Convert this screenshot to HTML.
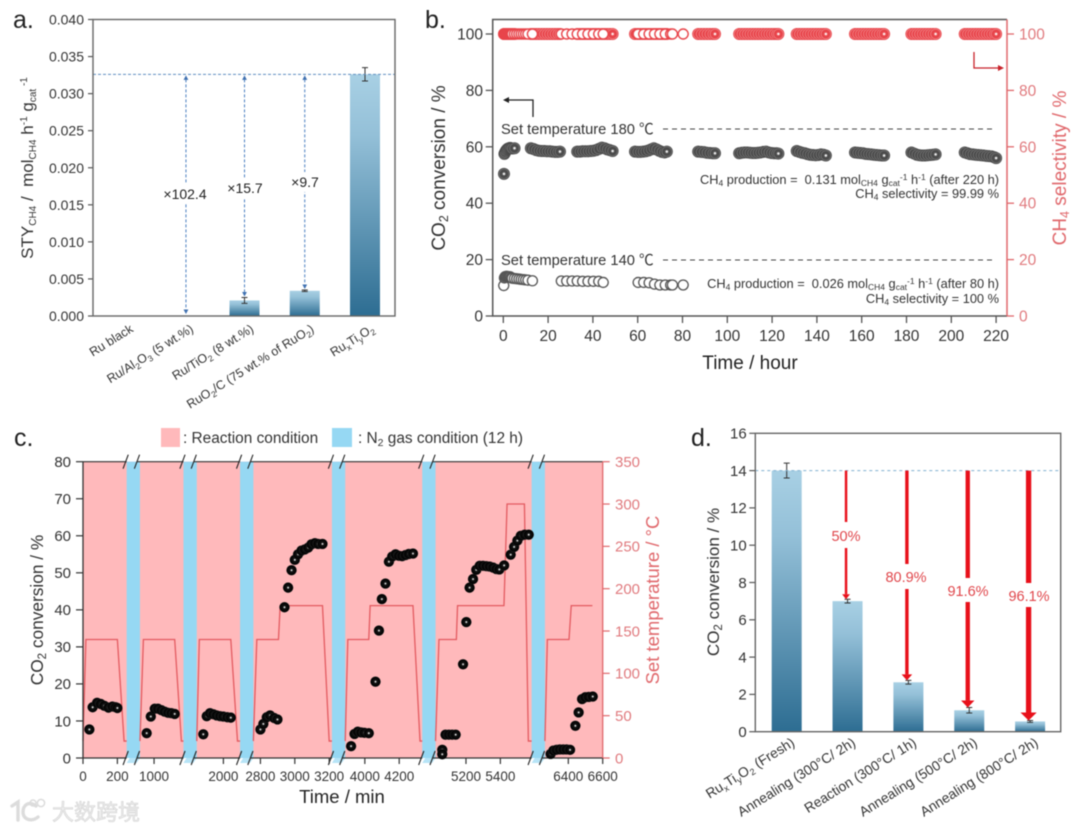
<!DOCTYPE html>
<html>
<head>
<meta charset="utf-8">
<title>Catalyst performance figure</title>
<style>
html,body{margin:0;padding:0;background:#fff;width:1080px;height:831px;overflow:hidden}
svg{display:block;filter:blur(0.5px)}
text{font-family:"Liberation Sans","Noto Sans CJK SC",sans-serif}
</style>
</head>
<body>
<svg id="fig" xmlns="http://www.w3.org/2000/svg" width="1080" height="831" viewBox="0 0 1080 831">
<defs>
<linearGradient id="barGrad" x1="0" y1="0" x2="0" y2="1"><stop offset="0" stop-color="#a8d0e4"/><stop offset="0.25" stop-color="#94c0d8"/><stop offset="1" stop-color="#2d6d92"/></linearGradient>
<radialGradient id="ballBlack" cx="0.5" cy="0.5" r="0.55"><stop offset="0" stop-color="#ffffff"/><stop offset="0.09" stop-color="#dddddd"/><stop offset="0.24" stop-color="#141414"/><stop offset="0.8" stop-color="#000000"/><stop offset="1" stop-color="#666666"/></radialGradient>
<radialGradient id="ballGrey" cx="0.5" cy="0.5" r="0.55"><stop offset="0" stop-color="#ffffff"/><stop offset="0.12" stop-color="#e8e8e8"/><stop offset="0.28" stop-color="#4c4c4c"/><stop offset="0.66" stop-color="#4c4c4c"/><stop offset="0.73" stop-color="#8a8a8a"/><stop offset="0.8" stop-color="#4a4a4a"/><stop offset="1" stop-color="#484848"/></radialGradient>
<radialGradient id="ballRed" cx="0.5" cy="0.5" r="0.55"><stop offset="0" stop-color="#ffffff"/><stop offset="0.12" stop-color="#ffe6e6"/><stop offset="0.28" stop-color="#e8454b"/><stop offset="0.66" stop-color="#e8454b"/><stop offset="0.73" stop-color="#f6a5a8"/><stop offset="0.8" stop-color="#e8454b"/><stop offset="1" stop-color="#e8454b"/></radialGradient>
</defs>

<!-- PANEL A -->
<g>
<text x="13" y="28" font-size="25" fill="#222">a.</text>
<g id="aMarks"></g>
<rect x="93" y="19.5" width="302" height="296.5" fill="none" stroke="#666" stroke-width="1.4"/>
<g>
<rect x="162" y="184" width="46" height="20" fill="#fff"/>
<text x="185" y="199" font-size="14" fill="#222" text-anchor="middle">×102.4</text>
<rect x="226" y="178" width="38" height="20" fill="#fff"/>
<text x="245" y="193" font-size="14" fill="#222" text-anchor="middle">×15.7</text>
<rect x="290" y="172" width="30" height="20" fill="#fff"/>
<text x="305" y="187" font-size="14" fill="#222" text-anchor="middle">×9.7</text>
</g>
<text transform="translate(33,168) rotate(-90)" text-anchor="middle" font-size="17" fill="#333">STY<tspan font-size="10" dy="3">CH4</tspan><tspan dy="-3">&#160;/&#160; mol</tspan><tspan font-size="10" dy="3">CH4</tspan><tspan dy="-3"> h</tspan><tspan font-size="10" dy="-6">-1</tspan><tspan dy="6"> g</tspan><tspan font-size="10" dy="3">cat</tspan><tspan font-size="10" dy="-9">&#160;-1</tspan></text>
</g>

<!-- PANEL B -->
<g>
<text x="425" y="28" font-size="25" fill="#222">b.</text>
<g id="bMarks"></g>
<path d="M1007 19.5H492.7V316H1007" fill="none" stroke="#555" stroke-width="1.5"/>
<line x1="1007" y1="19.5" x2="1007" y2="316" stroke="#e0686c" stroke-width="1.5"/>
<text transform="translate(445,168) rotate(-90)" text-anchor="middle" font-size="19" fill="#333">CO<tspan font-size="12.5" dy="3">2</tspan><tspan dy="-3"> conversion / %</tspan></text>
<text transform="translate(1066,168) rotate(-90)" text-anchor="middle" font-size="19" fill="#e0686c">CH<tspan font-size="12.5" dy="3">4</tspan><tspan dy="-3"> selectivity / %</tspan></text>
<text x="750" y="369" text-anchor="middle" font-size="19" fill="#222">Time / hour</text>
<text x="501" y="134" font-size="14.7" fill="#333">Set temperature 180 ℃</text>
<line x1="663" y1="129" x2="992" y2="129" stroke="#444" stroke-width="1.1" stroke-dasharray="5 4"/>
<text x="501" y="265" font-size="14.7" fill="#333">Set temperature 140 ℃</text>
<line x1="663" y1="260" x2="992" y2="260" stroke="#444" stroke-width="1.1" stroke-dasharray="5 4"/>
<path d="M533 117V100H507" fill="none" stroke="#222" stroke-width="1.3"/>
<path d="M503 100l6 -3v6z" fill="#222"/>
<path d="M974 52V68H1000" fill="none" stroke="#c8222a" stroke-width="1.3"/>
<path d="M1004 68l-6 -3v6z" fill="#c8222a"/>
<text x="999" y="184" text-anchor="end" font-size="12.8" fill="#333">CH<tspan font-size="8.5" dy="2">4</tspan><tspan dy="-2"> production =&#160; 0.131 mol</tspan><tspan font-size="8.5" dy="2">CH4</tspan><tspan dy="-2"> g</tspan><tspan font-size="8.5" dy="2">cat</tspan><tspan font-size="8.5" dy="-6">-1</tspan><tspan dy="4"> h</tspan><tspan font-size="8.5" dy="-4">-1</tspan><tspan dy="4"> (after 220 h)</tspan></text>
<text x="999" y="198" text-anchor="end" font-size="12.8" fill="#333">CH<tspan font-size="8.5" dy="2">4</tspan><tspan dy="-2"> selectivity = 99.99 %</tspan></text>
<text x="999" y="288" text-anchor="end" font-size="12.8" fill="#333">CH<tspan font-size="8.5" dy="2">4</tspan><tspan dy="-2"> production =&#160; 0.026 mol</tspan><tspan font-size="8.5" dy="2">CH4</tspan><tspan dy="-2"> g</tspan><tspan font-size="8.5" dy="2">cat</tspan><tspan font-size="8.5" dy="-6">-1</tspan><tspan dy="4"> h</tspan><tspan font-size="8.5" dy="-4">-1</tspan><tspan dy="4"> (after 80 h)</tspan></text>
<text x="999" y="303" text-anchor="end" font-size="12.8" fill="#333">CH<tspan font-size="8.5" dy="2">4</tspan><tspan dy="-2"> selectivity = 100 %</tspan></text>
</g>

<!-- PANEL C -->
<g>
<text x="14" y="446" font-size="25" fill="#222">c.</text>
<g>
<rect x="161" y="428" width="19" height="19" fill="#ffb9bb"/>
<text x="183" y="443" font-size="15.4" fill="#333">: Reaction condition</text>
<rect x="332" y="428" width="20" height="19" fill="#96d8f3"/>
<text x="358" y="443" font-size="15.4" fill="#333">: N<tspan font-size="10.5" dy="3">2</tspan><tspan dy="-3"> gas condition (12 h)</tspan></text>
</g>
<g id="cMarks"></g>
<text transform="translate(43,610) rotate(-90)" text-anchor="middle" font-size="17.3" fill="#333">CO<tspan font-size="11.5" dy="3">2</tspan><tspan dy="-3"> conversion / %</tspan></text>
<text transform="translate(659,600) rotate(-90)" text-anchor="middle" font-size="18.5" fill="#e0686c">Set temperature / °C</text>
<text x="342" y="803" text-anchor="middle" font-size="18.5" fill="#222">Time / min</text>
</g>

<!-- PANEL D -->
<g>
<text x="691" y="446" font-size="25" fill="#222">d.</text>
<g id="dMarks"></g>
<rect x="755.3" y="433.3" width="305.4" height="298.4" fill="none" stroke="#666" stroke-width="1.4"/>
<g>
<rect x="828" y="522" width="36" height="26" fill="#fff"/>
<text x="846" y="541" font-size="14.5" fill="#e0474c" text-anchor="middle">50%</text>
<rect x="884" y="564" width="48" height="25" fill="#fff"/>
<text x="906" y="582" font-size="14.5" fill="#e0474c" text-anchor="middle">80.9%</text>
<rect x="945" y="578" width="48" height="24" fill="#fff"/>
<text x="968" y="596" font-size="14.5" fill="#e0474c" text-anchor="middle">91.6%</text>
<rect x="1006" y="583" width="48" height="24" fill="#fff"/>
<text x="1029" y="601" font-size="14.5" fill="#e0474c" text-anchor="middle">96.1%</text>
</g>
<text transform="translate(719,582) rotate(-90)" text-anchor="middle" font-size="17" fill="#333">CO<tspan font-size="11.5" dy="3">2</tspan><tspan dy="-3"> conversion / %</tspan></text>
</g>

<!-- WATERMARK -->
<g>
<path d="M12 806L18 802V820M36 806C28 800 23 806 23 812C23 820 32 822 38 817" fill="none" stroke="#dcdcdc" stroke-width="3.4" stroke-linecap="round"/>
<circle cx="33" cy="803" r="3" fill="none" stroke="#dcdcdc" stroke-width="1.5"/>
<circle cx="41" cy="803" r="3.6" fill="none" stroke="#dcdcdc" stroke-width="1.5"/>
<text x="52" y="820" font-size="22" fill="#ececec" stroke="#d4d4d4" stroke-width="0.6" style="font-family:'Noto Sans CJK SC','WenQuanYi Zen Hei',sans-serif">大数跨境</text>
</g>
</svg>

<script>
// ---------- Panel a data ----------
const aCategories = ['Ru black', 'Ru/Al_{2}O_{3} (5 wt.%)', 'Ru/TiO_{2} (8 wt.%)', 'RuO_{2}/C (75 wt.% of RuO_{2})', 'Ru_{x}Ti_{y}O_{2}'];
const aValues = [0, 0, 0.0021, 0.0034, 0.0326];
const aErrors = [0, 0, 0.0004, 0.0001, 0.0009];
const aTicks = [0, 0.005, 0.01, 0.015, 0.02, 0.025, 0.03, 0.035, 0.04];

// ---------- Panel b data ----------
const bTicksX = [0, 20, 40, 60, 80, 100, 120, 140, 160, 180, 200, 220];
const bTicksY = [0, 20, 40, 60, 80, 100];
const hours140 = [0.2, 0.5, 0.8, 1.1, 1.5, 2, 2.5, 3, 3.5, 4, 5, 6, 7, 8, 9, 10, 11, 13, 25.9, 28.3, 30.7, 33, 35.4, 37.8, 40.2, 42.6, 44.6, 60.2, 62.7, 65.1, 67.5, 69.9, 72.3, 74.7, 75.5, 80.3];
const conv140 = [10.8, 13.5, 13.9, 14, 14.1, 14, 13.9, 13.9, 13.6, 13.4, 13.3, 13.2, 13.1, 13, 12.9, 12.8, 12.7, 12.5, 12.4, 12.4, 12.4, 12.4, 12.3, 12.3, 12.3, 12.3, 11.9, 11.9, 11.9, 11.8, 11.3, 11, 11, 11, 11, 11];
const sel140 = [100, 100, 100, 100, 100, 100, 100, 100, 100, 100, 100, 100, 100, 100, 100, 100, 100, 100, 100, 100, 100, 100, 100, 100, 100, 100, 100, 100, 100, 100, 100, 100, 100, 100, 100, 100];
const hours180 = [0.3, 0.5, 0.8, 1.2, 1.6, 2, 2.5, 3, 3.5, 4, 5,
  12.3, 13.5, 14.7, 15.9, 17.1, 18.3, 19.5, 20.7, 21.9, 23.1, 24.3, 25.3,
  33, 34.2, 35.4, 36.6, 37.8, 39, 40.2, 41.4, 42.6, 44, 45.2, 46.4, 47.6, 48.8,
  58.8, 60, 61.2, 62.4, 63.6, 64.8, 66, 67.2, 68.4, 69.6, 70.8, 72, 73,
  87, 88.3, 89.6, 90.9, 92.2, 93.5, 94.5,
  105.3, 106.5, 107.7, 108.9, 110.1, 111.3, 112.5, 113.7, 114.9, 116.1, 117.3, 118.5, 119.7, 120.9, 122, 122.8,
  131, 132.2, 133.4, 134.6, 135.8, 137, 138.2, 139.4, 140.6, 141.8, 143, 144,
  157, 158.2, 159.4, 160.6, 161.8, 163, 164.2, 165.4, 166.6, 167.8, 169, 170,
  182.2, 183.4, 184.6, 185.8, 187, 188.2, 189.4, 190.6, 191.8, 193,
  206, 207.2, 208.4, 209.6, 210.8, 212, 213.2, 214.4, 215.6, 216.8, 218, 219.2, 220];
const conv180 = [50.4, 57.5, 58, 58.6, 59, 59.3, 59.5, 59.6, 59.5, 59.4, 59.5,
  59.5, 59.2, 58.8, 58.6, 58.5, 58.5, 58.4, 58.4, 58.3, 58.2, 58.2, 58.3,
  58.3, 58.3, 58.4, 58.4, 58.4, 58.5, 58.6, 58.8, 59.2, 59.7, 59.5, 59.1, 58.8, 58.5,
  58.3, 58.2, 58.2, 58.3, 58.4, 58.7, 59.1, 59.5, 59.1, 58.6, 58.2, 58, 58.3,
  58.3, 58.2, 58.1, 57.9, 57.8, 57.7, 57.7,
  57.7, 57.9, 58, 58, 57.9, 57.8, 57.8, 57.9, 58, 58.2, 58.3, 58, 57.8, 57.7, 57.7, 57.6,
  58.5, 58.2, 57.9, 57.7, 57.4, 57.2, 57.1, 57, 57.1, 57.3, 57.2, 56.9,
  58, 57.9, 57.8, 57.7, 57.5, 57.4, 57.3, 57.2, 57.1, 57, 56.9, 56.9,
  58, 57.6, 57.2, 57, 56.9, 56.9, 57, 57.1, 57.2, 57.3,
  58, 57.7, 57.4, 57.3, 57.2, 57.1, 57, 56.9, 56.8, 56.7, 56.6, 56.3, 56];
const sel180 = [100, 100, 100, 100, 100, 100, 100, 100, 100, 100, 100,
  100, 100, 100, 100, 100, 100, 100, 100, 100, 100, 100, 100,
  100, 100, 100, 100, 100, 100, 100, 100, 100, 100, 100, 100, 100, 100,
  100, 100, 100, 100, 100, 100, 100, 100, 100, 100, 100, 100, 100,
  100, 100, 100, 100, 100, 100, 100,
  100, 100, 100, 100, 100, 100, 100, 100, 100, 100, 100, 100, 100, 100, 100, 100,
  100, 100, 100, 100, 100, 100, 100, 100, 100, 100, 100, 100,
  100, 100, 100, 100, 100, 100, 100, 100, 100, 100, 100, 100,
  100, 100, 100, 100, 100, 100, 100, 100, 100, 100,
  100, 100, 100, 100, 100, 100, 100, 100, 100, 100, 100, 100, 100];

// ---------- Panel c data ----------
const cSegmentStart = [0, 918, 1845, 2759, 3886, 5023, 6264];
const cSegmentEnd = [254, 1171, 2097, 3216, 4334, 5582, 6600];
const cTicksX = [0, 200, 1000, 2000, 2800, 3000, 3200, 4000, 4200, 5200, 5400, 6400, 6600];
const cTicksYLeft = [0, 10, 20, 30, 40, 50, 60, 70, 80];
const cTicksYRight = [0, 50, 100, 150, 200, 250, 300, 350];
const cTime = [37, 56, 82, 103, 124, 148, 171, 190, 200,
  957, 981, 1004, 1023, 1043, 1062, 1082, 1101, 1120,
  1883, 1903, 1922, 1942, 1961, 1981, 2000, 2023, 2043,
  2800, 2817, 2837, 2856, 2880, 2899, 2940, 2961, 2981, 3000, 3019, 3039, 3058, 3078, 3097, 3117, 3136, 3161,
  3920, 3940, 3959, 3979, 3998, 4023, 4062, 4082, 4099, 4120, 4140, 4159, 4179, 4198, 4217, 4237, 4256, 4280,
  5062, 5062, 5081, 5101, 5120, 5140, 5183, 5202, 5221, 5241, 5260, 5280, 5299, 5319, 5338, 5358, 5377, 5394, 5422, 5460, 5480, 5499, 5519, 5542, 5565,
  6297, 6313, 6332, 6351, 6371, 6390, 6410, 6441, 6460, 6480, 6499, 6519, 6542];
const cConversion = [7.7, 13.7, 14.9, 14.6, 14.1, 13.6, 13.9, 13.7, 13.5,
  6.7, 11.2, 13.3, 13.3, 12.9, 12.5, 12.2, 12.1, 11.9,
  6.4, 11.3, 12.1, 11.8, 11.5, 11.3, 11.2, 11, 10.9,
  7.7, 9.2, 11, 11.5, 10.8, 10.4, 40.7, 46, 50.7, 53.5, 55, 56, 56.3, 56.8, 57.7, 58, 57.8, 57.8,
  3.2, 6.5, 7.1, 6.9, 6.8, 6.7, 20.6, 34.4, 42.9, 47.1, 53, 54.4, 55, 54.6, 54.5, 54.8, 55.1, 55.2,
  2.2, 1, 6.3, 6.3, 6.3, 6.3, 25.3, 36.7, 46, 48.3, 50.8, 51.9, 51.9, 51.8, 51.7, 51.4, 51, 50.9, 52, 54.9, 57, 58.7, 60, 60.3, 60.3,
  1.1, 2, 2.2, 2.3, 2.3, 2.3, 2.2, 8.7, 12.3, 15.9, 16.4, 16.5, 16.6];
const tempTime1 = [0, 17, 200, 239, 254];
const tempValue1 = [20, 140, 140, 20, 20];
const tempTime2 = [918, 938, 1120, 1159, 1171];
const tempValue2 = [20, 140, 140, 20, 20];
const tempTime3 = [1845, 1860, 2043, 2082, 2097];
const tempValue3 = [20, 140, 140, 20, 20];
const tempTime4 = [2759, 2779, 2905, 2915, 3161, 3200, 3216];
const tempValue4 = [20, 140, 140, 180, 180, 20, 20];
const tempTime5 = [3886, 3901, 4023, 4031, 4280, 4321, 4334];
const tempValue5 = [20, 140, 140, 180, 180, 20, 20];
const tempTime6 = [5023, 5043, 5144, 5151, 5421, 5439, 5540, 5563, 5582];
const tempValue6 = [20, 140, 140, 180, 180, 300, 300, 20, 20];
const tempTime7 = [6264, 6278, 6404, 6417, 6540];
const tempValue7 = [20, 140, 140, 180, 180];

// ---------- Panel d data ----------
const dCategories = ['Ru_{x}Ti_{y}O_{2} (Fresh)', 'Annealing (300°C/ 2h)', 'Reaction (300°C/ 1h)', 'Annealing (500°C/ 2h)', 'Annealing (800°C/ 2h)'];
const dValues = [14, 7, 2.65, 1.15, 0.55];
const dErrors = [0.4, 0.1, 0.1, 0.15, 0.05];
const dTicks = [0, 2, 4, 6, 8, 10, 12, 14, 16];

// ---------- helpers ----------
const NS = 'http://www.w3.org/2000/svg';
function el(parent, tag, attrs) {
  const e = document.createElementNS(NS, tag);
  for (const k in attrs) e.setAttribute(k, attrs[k]);
  parent.appendChild(e);
  return e;
}
function rich(textEl, str, subSize) {
  const parts = str.split(/(_\{[^}]*\})/);
  let pendingDy = 0;
  parts.forEach(function (p) {
    if (!p) return;
    const t = document.createElementNS(NS, 'tspan');
    if (p.charAt(0) === '_' && p.charAt(1) === '{') {
      t.textContent = p.slice(2, -1);
      t.setAttribute('font-size', subSize);
      t.setAttribute('dy', 3 + pendingDy);
      pendingDy = -3;
    } else {
      t.textContent = p;
      if (pendingDy) t.setAttribute('dy', pendingDy);
      pendingDy = 0;
    }
    textEl.appendChild(t);
  });
}
function pathFrom(xs, ys, xf, yf) {
  return xs.map(function (x, i) { return (i ? 'L' : 'M') + xf(x).toFixed(2) + ' ' + yf(ys[i]).toFixed(2); }).join('');
}

// ---------- Panel a ----------
(function () {
  const g = document.getElementById('aMarks');
  const L = 93, R = 395, T = 19.5, B = 316;
  const yA = function (v) { return B - (v / 0.04) * (B - T); };
  const xA = function (i) { return 124 + i * 60.25; };
  aTicks.forEach(function (v) {
    const tick = el(g, 'line', { x1: L - 5, x2: L, y1: yA(v), y2: yA(v), stroke: '#555', 'stroke-width': 1.2 });
    
    
    const lab = el(g, 'text', { x: L - 9, y: yA(v) + 5, 'text-anchor': 'end', 'font-size': 14, fill: '#333' });
    lab.textContent = v.toFixed(3);
    
    
  });
  aCategories.forEach(function (c, i) {
    const x = xA(i), v = aValues[i], e = aErrors[i];
    if (v > 0) {
      const bar = el(g, 'rect', { x: x - 15, y: yA(v), width: 30, height: B - yA(v), fill: 'url(#barGrad)' });
      
      
      const err = el(g, 'path', { d: 'M' + (x - 3) + ' ' + yA(v + e) + 'H' + (x + 3) + 'M' + x + ' ' + yA(v + e) + 'V' + yA(v - e) + 'M' + (x - 3) + ' ' + yA(v - e) + 'H' + (x + 3), stroke: '#333', 'stroke-width': 1, fill: 'none' });
      
      
    }
    const lab = el(g, 'text', { transform: 'translate(' + (x + 10) + ',331) rotate(-32)', 'text-anchor': 'end', 'font-size': 12.5, fill: '#333' });
    rich(lab, c, 8.5);
    
    
  });
  const refV = aValues[4];
  const ref = el(g, 'line', { x1: L, x2: R, y1: yA(refV), y2: yA(refV), stroke: '#5f8fc0', 'stroke-width': 1, 'stroke-dasharray': '3 2' });
  
  
  [1, 2, 3].forEach(function (i) {
    const x = xA(i) + (i === 1 ? 1.7 : 0);
    const bottomY = yA(aValues[i] + aErrors[i]) - (i === 1 ? 2 : 1);
    const topY = yA(refV) + 1;
    const ln = el(g, 'line', { x1: x, x2: x, y1: topY + 4, y2: bottomY - 4, stroke: '#4a7fc0', 'stroke-width': 1, 'stroke-dasharray': '3 2' });
    
    
    const h1 = el(g, 'path', { d: 'M' + x + ' ' + topY + 'l2.4 4.5h-4.8z', fill: '#3f70b0' });
    
    
    const h2 = el(g, 'path', { d: 'M' + x + ' ' + bottomY + 'l2.4 -4.5h-4.8z', fill: '#3f70b0' });
    
    
  });
})();

// ---------- Panel b ----------
(function () {
  const g = document.getElementById('bMarks');
  const xB = function (h) { return 503.3 + h * 2.24; };
  const yB = function (v) { return 316 - v * 2.82; };
  bTicksX.forEach(function (v) {
    const tick = el(g, 'line', { x1: xB(v), x2: xB(v), y1: 316, y2: 323, stroke: '#555', 'stroke-width': 1.3 });
    
    
    const lab = el(g, 'text', { x: xB(v), y: 341, 'text-anchor': 'middle', 'font-size': 15.5, fill: '#333' });
    lab.textContent = v;
    
    
  });
  bTicksY.forEach(function (v) {
    const tick = el(g, 'line', { x1: 485.7, x2: 492.7, y1: yB(v), y2: yB(v), stroke: '#555', 'stroke-width': 1.3 });
    
    
    const lab = el(g, 'text', { x: 483, y: yB(v) + 5.5, 'text-anchor': 'end', 'font-size': 15.5, fill: '#333' });
    lab.textContent = v;
    
    
    const tick2 = el(g, 'line', { x1: 1007, x2: 1014, y1: yB(v), y2: yB(v), stroke: '#e0686c', 'stroke-width': 1.3 });
    
    
    const lab2 = el(g, 'text', { x: 1019, y: yB(v) + 5.5, 'font-size': 15.5, fill: '#e07a7e' });
    lab2.textContent = v;
    
    
  });
  hours180.forEach(function (h, i) {
    const c = el(g, 'circle', { cx: xB(h), cy: yB(sel180[i]), r: 6, fill: 'url(#ballRed)' });
    
    
  });
  hours140.forEach(function (h, i) {
    const c = el(g, 'circle', { cx: xB(h), cy: yB(sel140[i]), r: 5, fill: '#fff', stroke: '#e8454b', 'stroke-width': 1.4 });
    
    
  });
  hours180.forEach(function (h, i) {
    const c = el(g, 'circle', { cx: xB(h), cy: yB(conv180[i]), r: 6, fill: 'url(#ballGrey)' });
    
    
  });
  hours140.forEach(function (h, i) {
    const c = el(g, 'circle', { cx: xB(h), cy: yB(conv140[i]), r: 5, fill: '#fff', stroke: '#555', 'stroke-width': 1.3 });
    
    
  });
})();

// ---------- Panel c ----------
(function () {
  const g = document.getElementById('cMarks');
  const L = 83, R = 602.7, T = 461.7, B = 758, GAP = 13.3;
  let total = 0;
  cSegmentStart.forEach(function (s, i) { total += cSegmentEnd[i] - s; });
  const k = (R - L - GAP * (cSegmentStart.length - 1)) / total;
  const xC = function (t) {
    let px = L;
    for (let i = 0; i < cSegmentStart.length; i++) {
      if (t <= cSegmentEnd[i]) return px + (t - cSegmentStart[i]) * k;
      px += (cSegmentEnd[i] - cSegmentStart[i]) * k + GAP;
    }
    return R;
  };
  const yC = function (v) { return B - v / 80 * (B - T); };
  const yT = function (v) { return B - v / 350 * (B - T); };
  const bg = el(g, 'rect', { x: L, y: T, width: R - L, height: B - T, fill: '#ffb9bb' });
  
  
  for (let i = 0; i < cSegmentStart.length - 1; i++) {
    const x0 = xC(cSegmentEnd[i]);
    const band = el(g, 'rect', { x: x0, y: T, width: GAP, height: B - T, fill: '#96d8f3' });
    
    
    const tail = el(g, 'path', { d: 'M' + (x0 + 3) + ' ' + B + 'H' + (x0 + GAP) + 'L' + (x0 + GAP - 3.5) + ' ' + (B + 5) + 'H' + x0 + 'z', fill: '#b7e4f7' });
    
    
  }
  const sets = [[tempTime1, tempValue1], [tempTime2, tempValue2], [tempTime3, tempValue3], [tempTime4, tempValue4], [tempTime5, tempValue5], [tempTime6, tempValue6], [tempTime7, tempValue7]];
  sets.forEach(function (s) {
    const ln = el(g, 'path', { d: pathFrom(s[0], s[1], xC, yT), fill: 'none', stroke: '#e35a60', 'stroke-width': 1.3 });
    
    
  });
  // axes with breaks
  cSegmentStart.forEach(function (s, i) {
    const x1 = xC(cSegmentStart[i]);
    const x2 = xC(cSegmentEnd[i]);
    const top = el(g, 'line', { x1: x1 - (i ? 3 : 0), x2: x2, y1: T, y2: T, stroke: '#333', 'stroke-width': 1.2 });
    
    
    const bot = el(g, 'line', { x1: x1 - (i ? 3 : 0), x2: x2, y1: B, y2: B, stroke: '#333', 'stroke-width': 1.2 });
    
    
    if (i < cSegmentStart.length - 1) {
      [x2 - 1, x2 + GAP - 3].forEach(function (sx) {
        [T, B].forEach(function (sy) {
          const sl = el(g, 'line', { x1: sx - 2.6, x2: sx + 2.6, y1: sy + 7, y2: sy - 7, stroke: '#222', 'stroke-width': 1.1 });
          
          
        });
      });
    }
  });
  const la = el(g, 'line', { x1: L, x2: L, y1: T, y2: B, stroke: '#333', 'stroke-width': 1.3 });
  
  
  const ra = el(g, 'line', { x1: R, x2: R, y1: T, y2: B, stroke: '#e0686c', 'stroke-width': 1.3 });
  
  
  cTicksYLeft.forEach(function (v) {
    const tick = el(g, 'line', { x1: L - 7, x2: L, y1: yC(v), y2: yC(v), stroke: '#333', 'stroke-width': 1.2 });
    
    
    const lab = el(g, 'text', { x: 71, y: yC(v) + 5.3, 'text-anchor': 'end', 'font-size': 15, fill: '#333' });
    lab.textContent = v;
    
    
  });
  cTicksYRight.forEach(function (v) {
    const tick = el(g, 'line', { x1: R, x2: R + 7, y1: yT(v), y2: yT(v), stroke: '#e0686c', 'stroke-width': 1.2 });
    
    
    const lab = el(g, 'text', { x: 615, y: yT(v) + 5.3, 'font-size': 15, fill: '#e07a7e' });
    lab.textContent = v;
    
    
  });
  cTicksX.forEach(function (v) {
    const tick = el(g, 'line', { x1: xC(v), x2: xC(v), y1: B, y2: B + 6, stroke: '#333', 'stroke-width': 1.2 });
    
    
    const lab = el(g, 'text', { x: xC(v), y: 781, 'text-anchor': 'middle', 'font-size': 13.5, fill: '#333' });
    lab.textContent = v;
    
    
  });
  cTime.forEach(function (t, i) {
    const c = el(g, 'circle', { cx: xC(t), cy: yC(cConversion[i]), r: 5.2, fill: 'url(#ballBlack)' });
    
    
  });
})();

// ---------- Panel d ----------
(function () {
  const g = document.getElementById('dMarks');
  const L = 755.3, R = 1060.7, T = 433.3, B = 731.7;
  const yD = function (v) { return B - v / 16 * (B - T); };
  const xD = function (i) { return 786.7 + i * 60.85; };
  dTicks.forEach(function (v) {
    const tick = el(g, 'line', { x1: L - 6, x2: L, y1: yD(v), y2: yD(v), stroke: '#555', 'stroke-width': 1.2 });
    
    
    const lab = el(g, 'text', { x: 746.7, y: yD(v) + 5.3, 'text-anchor': 'end', 'font-size': 15, fill: '#333' });
    lab.textContent = v;
    
    
  });
  dCategories.forEach(function (c, i) {
    const x = xD(i), v = dValues[i], e = dErrors[i];
    const bar = el(g, 'rect', { x: x - 15, y: yD(v), width: 30, height: B - yD(v), fill: 'url(#barGrad)' });
    
    
    const err = el(g, 'path', { d: 'M' + (x - 3) + ' ' + yD(v + e) + 'H' + (x + 3) + 'M' + x + ' ' + yD(v + e) + 'V' + yD(v - e) + 'M' + (x - 3) + ' ' + yD(v - e) + 'H' + (x + 3), stroke: '#333', 'stroke-width': 1, fill: 'none' });
    
    
    const lab = el(g, 'text', { transform: 'translate(' + (x + 9) + ',745) rotate(-32)', 'text-anchor': 'end', 'font-size': 13.8, fill: '#333' });
    rich(lab, c, 9);
    
    
  });
  const refV = dValues[0];
  const ref = el(g, 'line', { x1: L, x2: R, y1: yD(refV), y2: yD(refV), stroke: '#7fb0d0', 'stroke-width': 1, 'stroke-dasharray': '3 3' });
  
  
  [1, 2, 3, 4].forEach(function (i) {
    const x = xD(i) - 1.5;
    const w = 1.5 + i * 0.95;
    const endY = yD(dValues[i] + dErrors[i]);
    const hw = 2.5 + i * 1.4, hh = 4 + i * 1;
    const shaft = el(g, 'rect', { x: x - w / 2, y: yD(refV), width: w, height: endY - hh - yD(refV), fill: '#e8101a' });
    
    
    const head = el(g, 'path', { d: 'M' + (x - hw) + ' ' + (endY - hh) + 'H' + (x + hw) + 'L' + x + ' ' + endY + 'z', fill: '#e8101a' });
    
    
  });
})();
</script>
</body>
</html>
